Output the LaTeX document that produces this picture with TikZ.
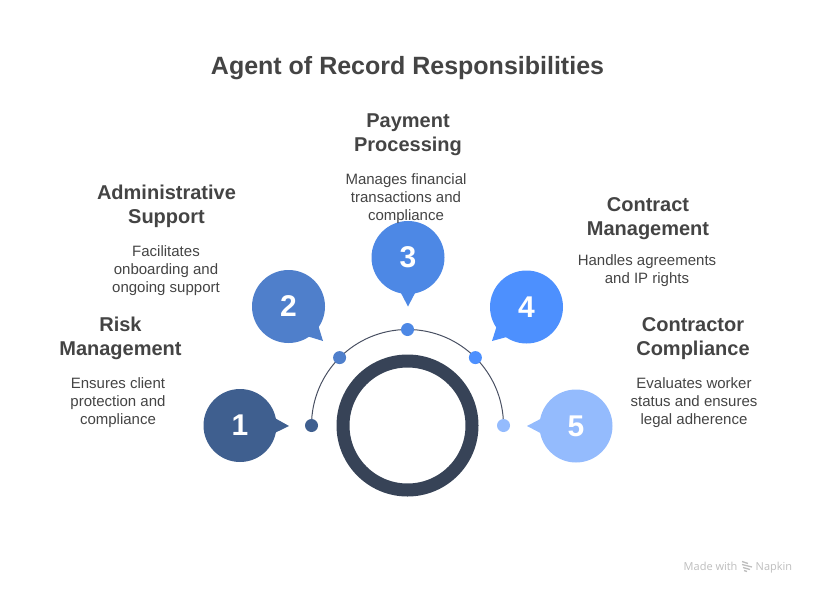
\documentclass[tikz,border=0pt]{standalone}
\usepackage{fontspec}
\setmainfont{Liberation Sans}
\newfontfamily\markfont{Open Sans}
\usetikzlibrary{calc}
\definecolor{cA}{HTML}{3F5F8F}
\definecolor{cB}{HTML}{4F7FCB}
\definecolor{cC}{HTML}{4D88E5}
\definecolor{cD}{HTML}{4D90FE}
\definecolor{cE}{HTML}{94BBFD}
\definecolor{ringc}{HTML}{374357}
\definecolor{txt}{HTML}{444444}
\definecolor{arcc}{HTML}{4A5163}
\definecolor{markc}{HTML}{BDBDBD}
\tikzset{
  x=1pt,y=-1pt,
  bubble/.style={circle,fill=#1,minimum size=73pt,inner sep=0pt,text=white,font=\fontsize{30}{30}\selectfont\bfseries},
  dotn/.style={circle,fill=#1,minimum size=13pt,inner sep=0pt},
  heading/.style={align=center,text=txt,inner sep=0pt,font=\fontsize{20}{24}\selectfont\bfseries},
  body/.style={align=center,text=txt,inner sep=0pt,font=\fontsize{15}{18}\selectfont},
  arcline/.style={draw=arcc,line width=1pt},
  marktext/.style={text=markc,inner sep=0pt,anchor=base west,font=\markfont\fontsize{11}{12}\selectfont},
}
\newcommand{\tailfill}[4]{\fill[#1] ($(#2.center)+(#3+11.5:36pt)$) -- (#4) -- ($(#2.center)+(#3-11.5:36pt)$) -- cycle;}
\begin{document}
\begin{tikzpicture}
\useasboundingbox (0,0) rectangle (816,594);
\node[text=txt,inner sep=0pt,font=\fontsize{25}{30}\selectfont\bfseries] (title) at (407.5,68) {Agent of Record Responsibilities};

\coordinate (c) at (407.5,425.5);
\node[circle,draw=ringc,line width=13pt,minimum size=129pt,inner sep=0pt,outer sep=0pt] (ring) at (c) {};

\coordinate (a1) at (311.5,425.5);
\coordinate (a3) at (407.5,329.5);
\coordinate (a5) at (503.5,425.5);
\draw[arcline] (a1) arc[start angle=180,end angle=0,x radius=96pt,y radius=96pt];

\node[dotn=cA] (d1) at (a1) {};
\node[dotn=cB] (d2) at (339.6,357.6) {};
\node[dotn=cC] (d3) at (a3) {};
\node[dotn=cD] (d4) at (475.4,357.6) {};
\node[dotn=cE] (d5) at (a5) {};

\node[bubble=cA] (b1) at (240,425.5) {1};
\node[bubble=cB] (b2) at (288.5,306.5) {2};
\node[bubble=cC] (b3) at (408,257.5) {3};
\node[bubble=cD] (b4) at (526.5,307) {4};
\node[bubble=cE] (b5) at (576,426) {5};

\coordinate (t1) at (289,426);
\coordinate (t2) at (323,341);
\coordinate (t3) at (408,306.5);
\coordinate (t4) at (492,341);
\coordinate (t5) at (527,426);
\tailfill{cA}{b1}{0}{t1}
\tailfill{cB}{b2}{-45}{t2}
\tailfill{cC}{b3}{-90}{t3}
\tailfill{cD}{b4}{-135}{t4}
\tailfill{cE}{b5}{180}{t5}

\node[heading] (h1) at (120.5,338.5) {Risk\\Management};
\node[body] (p1) at (118,402.5) {Ensures client\\protection and\\compliance};
\node[heading] (h2) at (166.5,206.5) {Administrative\\Support};
\node[body] (p2) at (166,270.5) {Facilitates\\onboarding and\\ongoing support};
\node[heading] (h3) at (408,134.5) {Payment\\Processing};
\node[body] (p3) at (406,198.5) {Manages financial\\transactions and\\compliance};
\node[heading] (h4) at (648,218.5) {Contract\\Management};
\node[body] (p4) at (647,270.5) {Handles agreements\\and IP rights};
\node[heading] (h5) at (693,338.5) {Contractor\\Compliance};
\node[body] (p5) at (694,402.5) {Evaluates worker\\status and ensures\\legal adherence};

\node[marktext] (m1) at (683.5,570) {Made with};
\node[marktext] (m2) at (755.5,570) {Napkin};
\draw[markc,line width=1.3pt] (742,561.5) -- (748,563.5);
\draw[markc,line width=1.3pt] (742,564.5) -- (752,567);
\draw[markc,line width=1.3pt] (743,567.5) -- (750,569.5);
\draw[markc,line width=1.3pt] (744,570.5) -- (747,571.5);
\end{tikzpicture}
\end{document}
